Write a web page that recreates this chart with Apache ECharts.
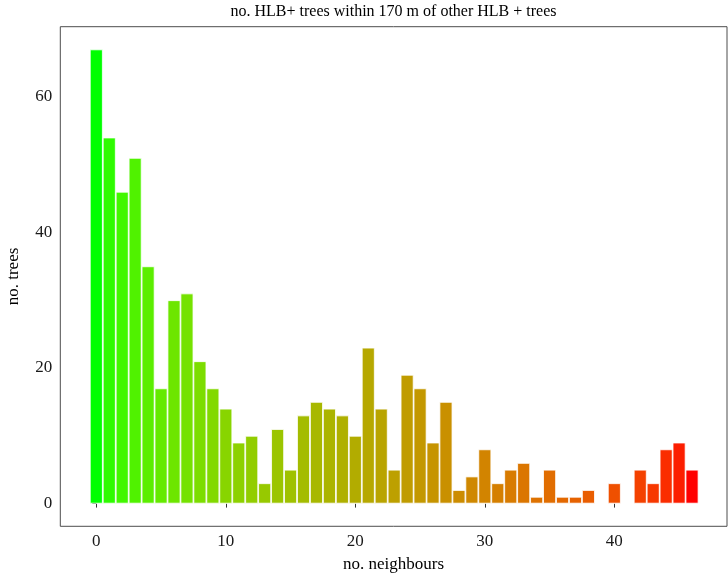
<!DOCTYPE html>
<html>
<head>
<meta charset="utf-8">
<script src="https://cdn.jsdelivr.net/npm/echarts@6/dist/echarts.min.js"></script>
<style>html,body{margin:0;padding:0;background:#fff}#c{width:728px;height:575px}</style>
</head>
<body>
<div id="c"></div>
<script>
// Data
var neighbours = [0,1,2,3,4,5,6,7,8,9,10,11,12,13,14,15,16,17,18,19,20,21,22,23,24,25,26,27,28,29,30,31,32,33,34,35,36,37,38,39,40,41,42,43,44,45,46];
var trees = [67,54,46,51,35,17,30,31,21,17,14,9,10,3,11,5,13,15,14,13,10,23,14,5,19,17,9,15,2,4,8,3,5,6,1,5,1,1,2,0,3,0,5,3,8,9,5];
var xTicks = [0,10,20,30,40];
var yTicks = [0,20,40,60];
var titleText = 'no. HLB+ trees within 170 m of other HLB + trees';
var xName = 'no. neighbours';
var yName = 'no. trees';
var lowColor = '#00FF00', highColor = '#FF0000';

// Lab interpolation (like ggplot2 scale_fill_gradient)
function hex2rgb(h){return [parseInt(h.substr(1,2),16),parseInt(h.substr(3,2),16),parseInt(h.substr(5,2),16)];}
function lin(c){c/=255;return c<=0.04045?c/12.92:Math.pow((c+0.055)/1.055,2.4);}
function unlin(c){c=c<=0.0031308?12.92*c:1.055*Math.pow(c,1/2.4)-0.055;return Math.max(0,Math.min(255,Math.round(c*255)));}
var Xn=0.95047,Yn=1,Zn=1.08883;
function f(t){return t>0.008856?Math.cbrt(t):7.787*t+16/116;}
function finv(t){return t>0.206893?t*t*t:(t-16/116)/7.787;}
function rgb2lab(rgb){var r=lin(rgb[0]),g=lin(rgb[1]),b=lin(rgb[2]);
 var X=r*0.4124+g*0.3576+b*0.1805,Y=r*0.2126+g*0.7152+b*0.0722,Z=r*0.0193+g*0.1192+b*0.9505;
 var fx=f(X/Xn),fy=f(Y/Yn),fz=f(Z/Zn);return [116*fy-16,500*(fx-fy),200*(fy-fz)];}
function lab2hex(lab){var fy=(lab[0]+16)/116,fx=fy+lab[1]/500,fz=fy-lab[2]/200;
 var X=Xn*finv(fx),Y=Yn*finv(fy),Z=Zn*finv(fz);
 var r=X*3.2406+Y*-1.5372+Z*-0.4986,g=X*-0.9689+Y*1.8758+Z*0.0415,b=X*0.0557+Y*-0.2040+Z*1.0570;
 return 'rgb('+unlin(r)+','+unlin(g)+','+unlin(b)+')';}
var labLo=rgb2lab(hex2rgb(lowColor)),labHi=rgb2lab(hex2rgb(highColor));
var xmin=Math.min.apply(null,neighbours),xmax=Math.max.apply(null,neighbours);
function colorAt(x){var t=(x-xmin)/(xmax-xmin);return lab2hex([labLo[0]+(labHi[0]-labLo[0])*t-4*Math.sin(Math.PI*t),labLo[1]+(labHi[1]-labLo[1])*t,labLo[2]+(labHi[2]-labLo[2])*t]);}

var barData=[];
neighbours.forEach(function(x,i){ if(trees[i]>0) barData.push({value:[x,trees[i]],itemStyle:{color:colorAt(x)}}); });

var font='Liberation Serif';
var chart=echarts.init(document.getElementById('c'),null,{renderer:'canvas'});
chart.setOption({
 animation:false,
 backgroundColor:'#ffffff',
 grid:{left:60.3,right:1,top:26.7,bottom:48.7,show:true,borderColor:'#4d4d4d',borderWidth:1,backgroundColor:'transparent'},
 xAxis:{type:'value',min:-2.78,max:48.7,
   axisLine:{show:false},splitLine:{show:false},
   axisTick:{show:true,length:4,lineStyle:{color:'#333'},customValues:xTicks},
   axisLabel:{customValues:xTicks,color:'#1a1a1a',fontFamily:font,fontSize:17,margin:7}},
 yAxis:{type:'value',min:-3.35,max:70.35,
   axisLine:{show:false},splitLine:{show:false},
   axisTick:{show:true,length:4,lineStyle:{color:'#333'},customValues:yTicks},
   axisLabel:{customValues:yTicks,color:'#1a1a1a',fontFamily:font,fontSize:17,margin:8}},
 series:[{type:'bar',data:barData,barWidth:12.95,itemStyle:{borderColor:'#ffffff',borderWidth:0.8}}],
 graphic:[
  {type:'text',x:393.5,y:12,style:{text:titleText,x:0,y:0,textAlign:'center',textVerticalAlign:'middle',font:'16px "Liberation Serif"',fill:'#000'}},
  {type:'text',x:393.5,y:565,style:{text:xName,x:0,y:0,textAlign:'center',textVerticalAlign:'middle',font:'17px "Liberation Serif"',fill:'#000'}},
  {type:'text',rotation:Math.PI/2,x:14,y:276.5,style:{text:yName,x:0,y:0,textAlign:'center',textVerticalAlign:'middle',font:'17px "Liberation Serif"',fill:'#000'}}
 ]
});
</script>
</body>
</html>
